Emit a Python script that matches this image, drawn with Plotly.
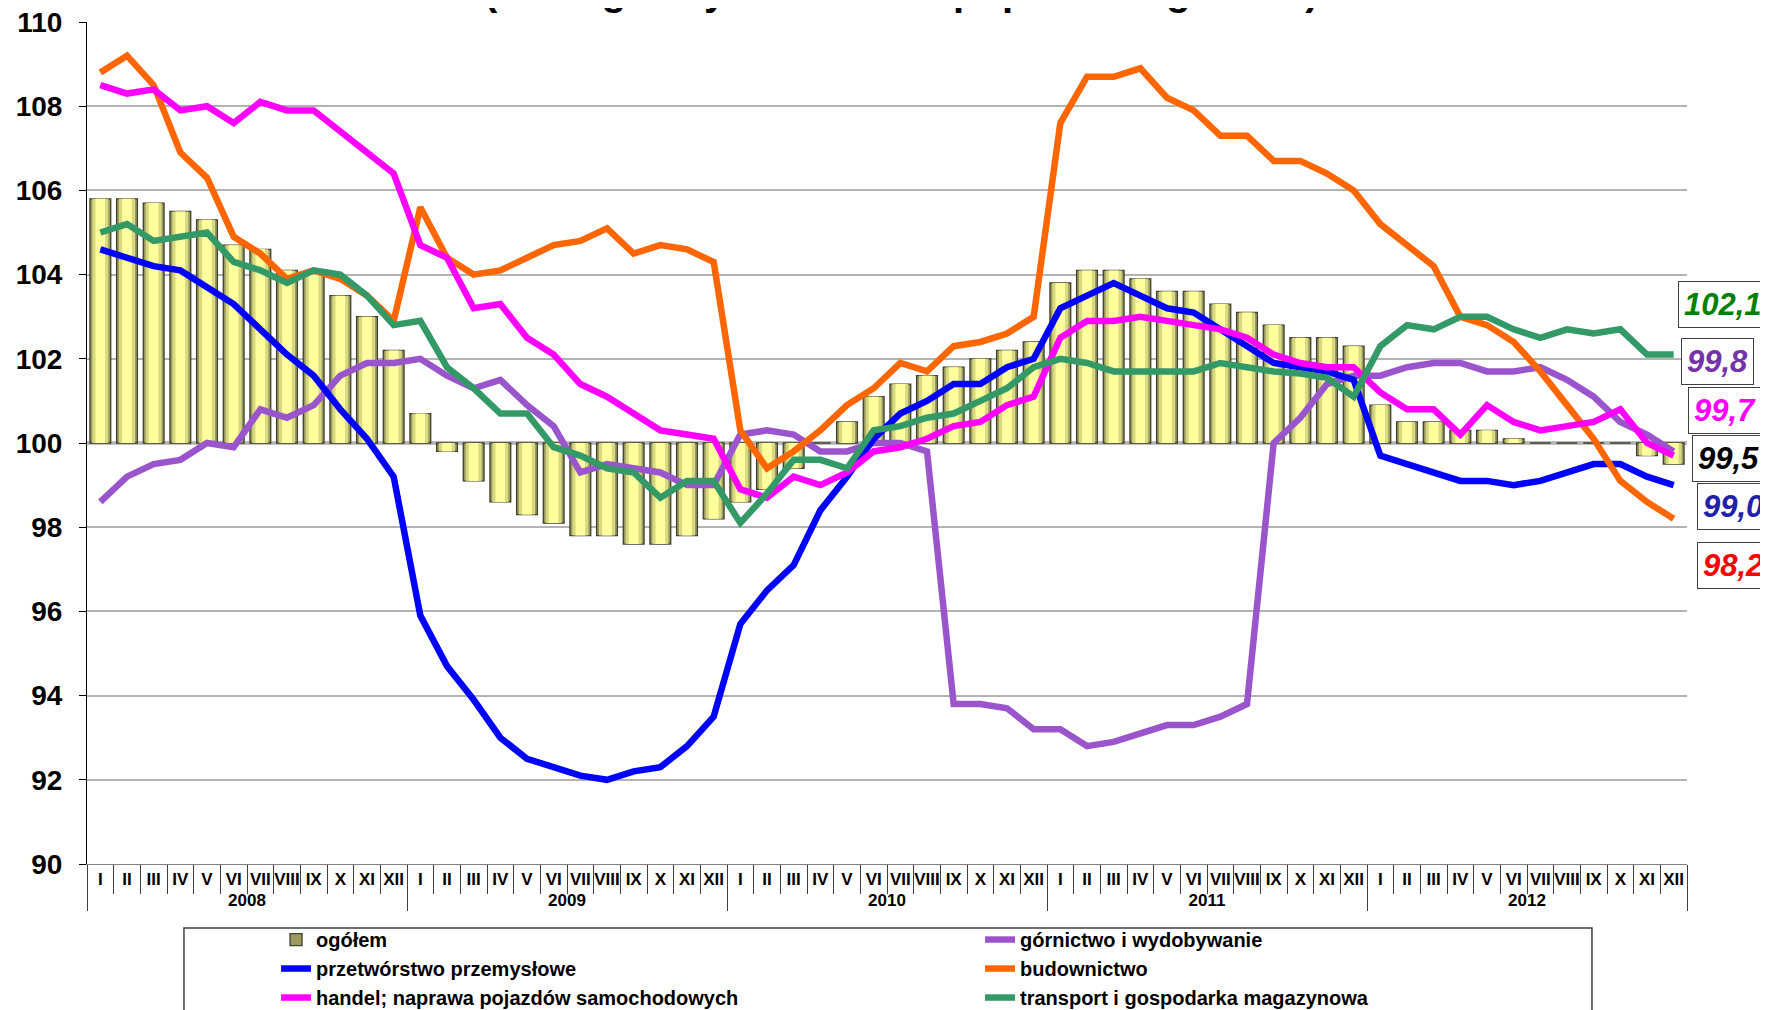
import plotly.graph_objs as go


# categories
months = ['I', 'II', 'III', 'IV', 'V', 'VI', 'VII', 'VIII', 'IX', 'X', 'XI', 'XII']
years = ['2008', '2009', '2010', '2011', '2012']

# series values (analogiczny okres roku poprzedniego = 100)
ogolem = [105.8, 105.8, 105.7, 105.5, 105.3, 104.7, 104.6, 104.1, 104.0, 103.5, 103.0, 102.2,
          100.7, 99.8, 99.1, 98.6, 98.3, 98.1, 97.8, 97.8, 97.6, 97.6, 97.8, 98.2,
          98.6, 98.9, 99.4, 100.0, 100.5, 101.1, 101.4, 101.6, 101.8, 102.0, 102.2, 102.4,
          103.8, 104.1, 104.1, 103.9, 103.6, 103.6, 103.3, 103.1, 102.8, 102.5, 102.5, 102.3,
          100.9, 100.5, 100.5, 100.3, 100.3, 100.1, 100.0, 100.0, 100.0, 100.0, 99.7, 99.5]

gornictwo = [98.6, 99.2, 99.5, 99.6, 100.0, 99.9, 100.8, 100.6, 100.9, 101.6, 101.9, 101.9,
             102.0, 101.6, 101.3, 101.5, 100.9, 100.4, 99.3, 99.5, 99.4, 99.3, 99.0, 99.0,
             100.2, 100.3, 100.2, 99.8, 99.8, 100.0, 100.0, 99.8, 93.8, 93.8, 93.7, 93.2,
             93.2, 92.8, 92.9, 93.1, 93.3, 93.3, 93.5, 93.8, 100.0, 100.6, 101.4, 101.6,
             101.6, 101.8, 101.9, 101.9, 101.7, 101.7, 101.8, 101.5, 101.1, 100.5, 100.2, 99.8]

przetworstwo = [104.6, 104.4, 104.2, 104.1, 103.7, 103.3, 102.7, 102.1, 101.6, 100.8, 100.1, 99.2,
                95.9, 94.7, 93.9, 93.0, 92.5, 92.3, 92.1, 92.0, 92.2, 92.3, 92.8, 93.5,
                95.7, 96.5, 97.1, 98.4, 99.2, 100.1, 100.7, 101.0, 101.4, 101.4, 101.8, 102.0,
                103.2, 103.5, 103.8, 103.5, 103.2, 103.1, 102.7, 102.3, 101.9, 101.8, 101.7, 101.5,
                99.7, 99.5, 99.3, 99.1, 99.1, 99.0, 99.1, 99.3, 99.5, 99.5, 99.2, 99.0]

budownictwo = [108.8, 109.2, 108.5, 106.9, 106.3, 104.9, 104.5, 103.9, 104.1, 103.9, 103.5, 102.9,
               105.6, 104.4, 104.0, 104.1, 104.4, 104.7, 104.8, 105.1, 104.5, 104.7, 104.6, 104.3,
               100.3, 99.4, 99.8, 100.3, 100.9, 101.3, 101.9, 101.7, 102.3, 102.4, 102.6, 103.0,
               107.6, 108.7, 108.7, 108.9, 108.2, 107.9, 107.3, 107.3, 106.7, 106.7, 106.4, 106.0,
               105.2, 104.7, 104.2, 103.0, 102.8, 102.4, 101.7, 100.9, 100.1, 99.1, 98.6, 98.2]

handel = [108.5, 108.3, 108.4, 107.9, 108.0, 107.6, 108.1, 107.9, 107.9, 107.4, 106.9, 106.4,
          104.7, 104.4, 103.2, 103.3, 102.5, 102.1, 101.4, 101.1, 100.7, 100.3, 100.2, 100.1,
          98.9, 98.7, 99.2, 99.0, 99.3, 99.8, 99.9, 100.1, 100.4, 100.5, 100.9, 101.1,
          102.5, 102.9, 102.9, 103.0, 102.9, 102.8, 102.7, 102.5, 102.1, 101.9, 101.8, 101.8,
          101.2, 100.8, 100.8, 100.2, 100.9, 100.5, 100.3, 100.4, 100.5, 100.8, 100.0, 99.7]

transport = [105.0, 105.2, 104.8, 104.9, 105.0, 104.3, 104.1, 103.8, 104.1, 104.0, 103.5, 102.8,
             102.9, 101.8, 101.3, 100.7, 100.7, 99.9, 99.7, 99.4, 99.3, 98.7, 99.1, 99.1,
             98.1, 98.8, 99.6, 99.6, 99.4, 100.3, 100.4, 100.6, 100.7, 101.0, 101.3, 101.8,
             102.0, 101.9, 101.7, 101.7, 101.7, 101.7, 101.9, 101.8, 101.7, 101.65, 101.55, 101.1,
             102.3, 102.8, 102.7, 103.0, 103.0, 102.7, 102.5, 102.7, 102.6, 102.7, 102.1, 102.1]

base_level = 100

x = [[y for y in years for m in months], [m for y in years for m in months]]

FONT = 'Arial, Liberation Sans, sans-serif'

fig = go.Figure()

# ogółem - bars from the 100 line, a few layers to fake the bevel
bar_dy = [v - base_level for v in ogolem]
fig.add_trace(go.Bar(x=x, y=bar_dy, base=base_level, name='ogółem', width=0.78,
                     marker=dict(color='#9A9A5C', line=dict(color='#404030', width=1.3))))
fig.add_trace(go.Bar(x=x, y=bar_dy, base=base_level, showlegend=False, width=0.6,
                     hoverinfo='skip', marker=dict(color='#D8D882', line=dict(width=0))))
fig.add_trace(go.Bar(x=x, y=bar_dy, base=base_level, showlegend=False, width=0.36,
                     hoverinfo='skip', marker=dict(color='#FFFF9E', line=dict(width=0))))

lines = [
    ('górnictwo i wydobywanie', gornictwo, '#9B55CC'),
    ('przetwórstwo przemysłowe', przetworstwo, '#0000FF'),
    ('budownictwo', budownictwo, '#FF6600'),
    ('handel; naprawa pojazdów samochodowych', handel, '#FF00FF'),
    ('transport i gospodarka magazynowa', transport, '#339966'),
]
for name, vals, col in lines:
    fig.add_trace(go.Scatter(x=x, y=vals, name=name, mode='lines',
                             line=dict(color=col, width=6.5)))

# category axis crossing at 100
fig.add_hline(y=base_level, line_color='black', line_width=2.5, layer='below')

# value boxes at the right edge
label_vals = [transport[-1], gornictwo[-1], handel[-1], ogolem[-1], przetworstwo[-1], budownictwo[-1]]
label_cols = ['#008000', '#7433A8', '#FF00FF', '#000000', '#2020A8', '#FF0000']
label_x = [1.0225, 1.019, 1.0235, 1.026, 1.029, 1.029]
label_y = [0.664, 0.597, 0.539, 0.481, 0.424, 0.355]
for v, c, lx, ly in zip(label_vals, label_cols, label_x, label_y):
    fig.add_annotation(xref='paper', yref='paper', x=lx, y=ly, xanchor='center', yanchor='middle',
                       showarrow=False,
                       text='<i>' + ('%.1f' % v).replace('.', ',') + '</i>',
                       font=dict(family=FONT, size=31, color=c, weight='bold'),
                       bgcolor='white', bordercolor='#404040', borderwidth=1, borderpad=5)

fig.add_annotation(xref='paper', yref='paper', x=0.509, y=1, xanchor='center', yanchor='middle',
                   yshift=31, showarrow=False, text='(analogiczny okres roku poprzedniego=100)',
                   font=dict(family=FONT, size=40, color='black', weight='bold'))

# legend frame
fig.add_shape(type='rect', xref='paper', yref='paper', x0=0.0606, x1=0.9406, y0=-0.076, y1=-0.18,
              line=dict(color='#404040', width=1.5), fillcolor='white', layer='below')

# the page adds an 8 px body margin, so the margins below are shifted by it
fig.update_layout(
    width=1768, height=1010,
    margin=dict(l=79, r=89, t=14, b=154),
    paper_bgcolor='white', plot_bgcolor='white',
    barmode='overlay',
    font=dict(family=FONT, color='black'),
    legend=dict(orientation='h', xref='container', yref='container',
                x=0.1516, y=0.097, xanchor='left', yanchor='top',
                borderwidth=0, bgcolor='rgba(0,0,0,0)',
                entrywidth=659, entrywidthmode='pixels',
                font=dict(family=FONT, size=20, color='black', weight='bold')),
    xaxis=dict(type='multicategory', showgrid=False, showline=True, linecolor='#808080',
               ticks='outside', ticklen=29, tickcolor='#404040', tickangle=0,
               dividercolor='#404040', dividerwidth=1, automargin=False,
               tickfont=dict(family=FONT, size=17, color='black', weight='bold')),
    yaxis=dict(range=[90, 110], dtick=2, showline=True, linecolor='black', linewidth=1,
               ticks='outside', ticklen=7, tickcolor='black', automargin=False,
               ticklabelstandoff=11, ticklabeloverflow='allow',
               gridcolor='#B3B3B3', gridwidth=1.5, zeroline=False,
               tickfont=dict(family=FONT, size=28, color='black', weight='bold')),
)

fig.write_html("out.html")
